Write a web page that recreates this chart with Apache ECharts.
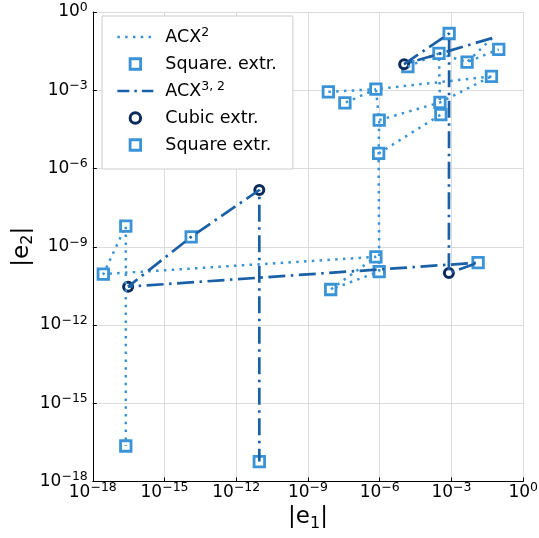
<!DOCTYPE html>
<html>
<head>
<meta charset="utf-8">
<script src="https://cdn.jsdelivr.net/npm/echarts@6/dist/echarts.min.js"></script>
<style>
  html, body { margin: 0; padding: 0; background: #ffffff; }
  #chart { width: 539px; height: 538px; }
</style>
</head>
<body>
<div id="chart"></div>
<script>
// Axis range (both axes logarithmic, one label every three decades)
const axisMin = 1e-18;
const axisMax = 1e0;
const tickStepDecades = 3;

// ACX² iterates (square extrapolation), one polyline per trajectory
const acx2Paths = [
  [[5.0e-2, 1.0e-1], [4.5e-3, 1.2e-2]],
  [[7.1e-9, 8.7e-4], [6.9e-7, 1.1e-3], [3.5e-8, 3.3e-4]],
  [[4.7e-2, 3.4e-3], [6.9e-7, 1.1e-3], [9.5e-7, 7.2e-5], [9.0e-7, 3.8e-6], [9.5e-7, 1.12e-10],
   [8.9e-9, 2.3e-11], [6.9e-7, 4.1e-10], [2.75e-18, 8.9e-11], [2.4e-17, 6.2e-9], [2.4e-17, 2.3e-17]],
  [[9.5e-7, 7.2e-5], [3.3e-4, 3.4e-4], [4.7e-2, 3.4e-3]],
  [[9.0e-7, 3.8e-6], [3.6e-4, 1.17e-4]],
  [[1.5e-5, 8.1e-3], [3.0e-4, 2.6e-2], [3.3e-4, 3.4e-4]],
  [[3.0e-4, 2.6e-2], [4.5e-3, 1.2e-2], [9.5e-2, 3.7e-2]]
];

// Square-extrapolated points of ACX²
const acx2Squares = [
  [1.5e-5, 8.1e-3], [3.0e-4, 2.6e-2], [4.5e-3, 1.2e-2], [9.5e-2, 3.7e-2], [4.7e-2, 3.4e-3],
  [7.1e-9, 8.7e-4], [3.5e-8, 3.3e-4], [6.9e-7, 1.1e-3], [9.5e-7, 7.2e-5], [9.0e-7, 3.8e-6],
  [3.3e-4, 3.4e-4], [3.6e-4, 1.17e-4], [6.9e-7, 4.1e-10], [9.5e-7, 1.12e-10], [8.9e-9, 2.3e-11],
  [2.75e-18, 8.9e-11], [2.4e-17, 6.2e-9], [2.4e-17, 2.3e-17]
];

// ACX^{3,2} trajectory: starting point, then alternating cubic / square steps
const acx32Path = [
  [5.0e-2, 1.0e-1], [1.05e-5, 1.0e-2], [8.0e-4, 1.5e-1], [7.8e-4, 9.8e-11], [1.3e-2, 2.45e-10],
  [3.0e-17, 2.95e-11], [1.3e-14, 2.4e-9], [9.2e-12, 1.5e-7], [9.2e-12, 5.8e-18]
];
const cubicPoints = [[1.05e-5, 1.0e-2], [7.8e-4, 9.8e-11], [3.0e-17, 2.95e-11], [9.2e-12, 1.5e-7]];
const acx32Squares = [[8.0e-4, 1.5e-1], [1.3e-2, 2.45e-10], [1.3e-14, 2.4e-9], [9.2e-12, 5.8e-18]];

const lightBlue = '#3a93d6';
const midBlue = '#1a60a6';
const navy = '#0c2a5a';
const fontFamily = 'DejaVu Sans, Noto Sans, sans-serif';

const dotPattern = [2.5, 5.3];
const dashDotPattern = [17, 5.5, 2.5, 5.5];

const MINUS = '\u2212';
function powerLabel(v) {
  const e = Math.round(Math.log10(v));
  return '10{sup|' + (e < 0 ? MINUS + (-e) : String(e)) + '}';
}

const supStyle = { fontSize: 12.5, fontFamily: fontFamily, color: '#000', verticalAlign: 'top', lineHeight: 12 };

function makeAxis(extra, labelMargin) {
  return Object.assign({
    type: 'log',
    logBase: 10,
    min: axisMin,
    max: axisMax,
    interval: tickStepDecades,
    nameMoveOverlap: false,
    axisLine: { show: true, onZero: false, lineStyle: { color: '#000', width: 1 } },
    axisTick: { show: true, inside: true, length: 4, lineStyle: { color: '#000', width: 1 } },
    minorTick: { show: false },
    splitLine: { show: true, lineStyle: { color: '#dcdcdc', width: 1 } },
    axisLabel: {
      showMinLabel: true,
      showMaxLabel: true,
      margin: labelMargin,
      fontSize: 17,
      fontFamily: fontFamily,
      color: '#000',
      lineHeight: 22,
      formatter: powerLabel,
      rich: { sup: supStyle }
    }
  }, extra);
}

const nameStyle = {
  fontSize: 23, fontFamily: fontFamily, color: '#000', lineHeight: 28,
  rich: {
    b: { fontSize: 23, fontFamily: fontFamily, color: '#000', lineHeight: 28 },
    sub: { fontSize: 16, fontFamily: fontFamily, color: '#000', verticalAlign: 'bottom', lineHeight: 16 }
  }
};

const series = [];
acx2Paths.forEach(function (path) {
  series.push({
    name: 'ACX2',
    type: 'line',
    data: path,
    symbol: 'none',
    silent: true,
    lineStyle: { color: lightBlue, width: 2.5, type: dotPattern, cap: 'butt' },
    itemStyle: { color: lightBlue }
  });
});
series.push({
  name: 'Square. extr.',
  type: 'scatter',
  data: acx2Squares,
  symbol: 'rect',
  symbolSize: 10.5,
  itemStyle: { color: '#ffffff', borderColor: lightBlue, borderWidth: 2.8, opacity: 1 }
});
series.push({
  name: 'ACX32',
  type: 'line',
  data: acx32Path,
  symbol: 'none',
  lineStyle: { color: midBlue, width: 2.7, type: dashDotPattern, cap: 'butt' },
  itemStyle: { color: midBlue }
});
series.push({
  name: 'Cubic extr.',
  type: 'scatter',
  data: cubicPoints,
  symbol: 'circle',
  symbolSize: 9,
  itemStyle: { color: '#ffffff', borderColor: navy, borderWidth: 3, opacity: 1 }
});
series.push({
  name: 'Square extr.',
  type: 'scatter',
  data: acx32Squares,
  symbol: 'rect',
  symbolSize: 10.5,
  itemStyle: { color: '#ffffff', borderColor: lightBlue, borderWidth: 2.8, opacity: 1 }
});

const squareIcon = 'path://M0,0H10V10H0Z';
const legendLabels = {
  'ACX2': 'ACX{sup|2}',
  'ACX32': 'ACX{sup|3, 2}'
};
const hiddenSymbol = { color: 'rgba(0,0,0,0)', borderColor: 'rgba(0,0,0,0)', borderWidth: 0, opacity: 0 };

const option = {
  animation: false,
  backgroundColor: '#ffffff',
  grid: { left: 92.8, right: 15.8, top: 12, bottom: 56.5, containLabel: false, outerBoundsMode: 'none' },
  xAxis: makeAxis({
    name: '|{b|e}{sub|1}|',
    nameLocation: 'middle',
    nameGap: 22,
    nameTextStyle: nameStyle
  }, 0),
  yAxis: makeAxis({
    name: '|{b|e}{sub|2}|',
    nameLocation: 'middle',
    nameGap: 57,
    nameTextStyle: nameStyle
  }, 5),
  legend: {
    orient: 'vertical',
    left: 102,
    top: 16,
    padding: [10, 16, 13, 14],
    itemGap: 5,
    itemWidth: 36,
    itemHeight: 10.5,
    backgroundColor: '#ffffff',
    borderColor: '#cccccc',
    borderWidth: 1,
    borderRadius: 0,
    selectedMode: false,
    textStyle: {
      fontSize: 17.5, fontFamily: fontFamily, color: '#000', lineHeight: 22,
      padding: [0, 0, 0, 7],
      rich: { sup: supStyle }
    },
    formatter: function (name) { return legendLabels[name] || name; },
    data: [
      { name: 'ACX2', itemStyle: hiddenSymbol, lineStyle: { color: lightBlue, width: 2.5, type: dotPattern } },
      { name: 'Square. extr.', icon: squareIcon, itemStyle: { color: '#ffffff', borderColor: lightBlue, borderWidth: 2.8 } },
      { name: 'ACX32', itemStyle: hiddenSymbol, lineStyle: { color: midBlue, width: 2.7, type: [12, 5, 2.5, 5] } },
      { name: 'Cubic extr.', icon: 'circle', itemStyle: { color: '#ffffff', borderColor: navy, borderWidth: 3 } },
      { name: 'Square extr.', icon: squareIcon, itemStyle: { color: '#ffffff', borderColor: lightBlue, borderWidth: 2.8 } }
    ]
  },
  series: series
};

const chart = echarts.init(document.getElementById('chart'), null, { renderer: 'canvas' });
chart.setOption(option);
</script>
</body>
</html>
